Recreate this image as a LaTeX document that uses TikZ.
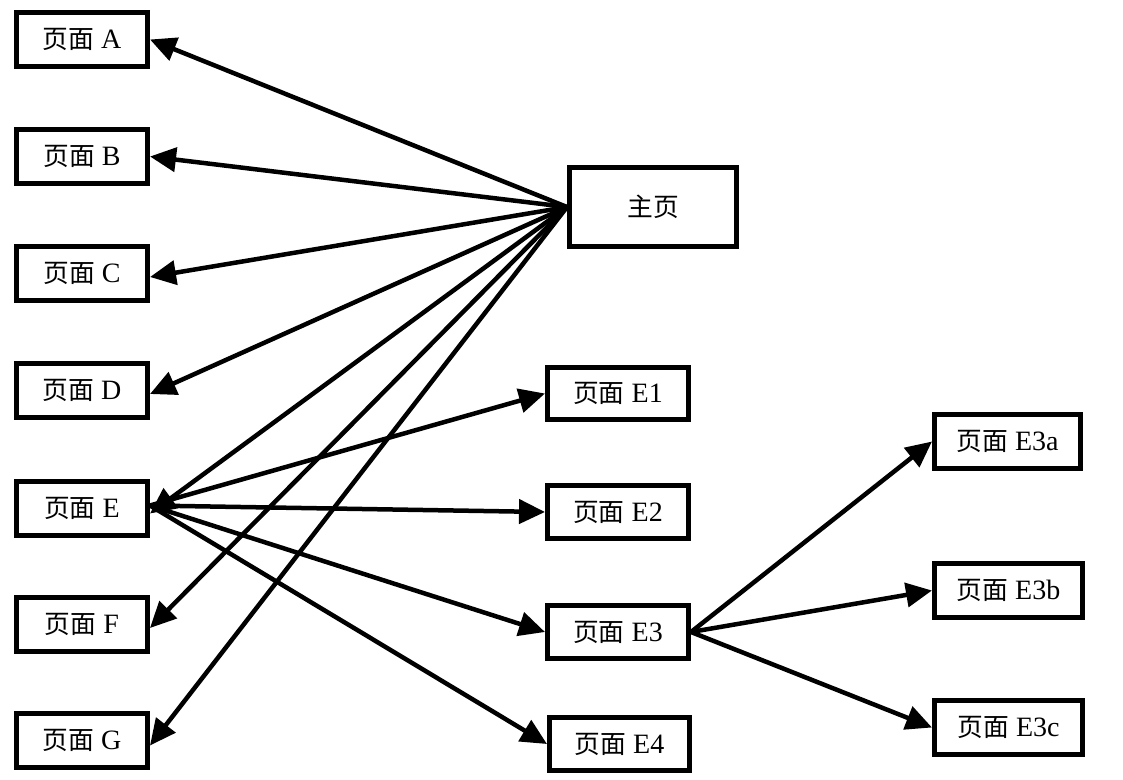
\documentclass[tikz,border=0pt]{standalone}
\usepackage{fontspec}
\setmainfont{Liberation Serif}
\newfontfamily\cjk{Noto Sans CJK SC}[Scale=0.92]
\usetikzlibrary{arrows.meta}
\begin{document}
\begin{tikzpicture}[x=1pt,y=-1pt,
  pagebox/.style={draw,line width=5pt,minimum width=131pt,minimum height=54pt,inner sep=0pt,font=\fontsize{28}{32}\selectfont},
  link/.style={line width=4.5pt,-{Triangle[length=26pt,width=24pt]}}]
\useasboundingbox (0,0) rectangle (1123,779);
\node[pagebox] (A) at (82,39.5) {{\cjk 页面} A};
\node[pagebox] (B) at (82,156.5) {{\cjk 页面} B};
\node[pagebox] (C) at (82,273) {{\cjk 页面} C};
\node[pagebox] (D) at (82,390) {{\cjk 页面} D};
\node[pagebox] (E) at (82,508.5) {{\cjk 页面} E};
\node[pagebox] (F) at (82,624) {{\cjk 页面} F};
\node[pagebox] (G) at (82,740.5) {{\cjk 页面} G};
\node[pagebox,minimum width=167pt,minimum height=79pt] (M) at (653,207) {\cjk 主页};
\node[pagebox,minimum width=141pt,minimum height=52pt] (E1) at (618,393.5) {{\cjk 页面} E1};
\node[pagebox,minimum width=141pt,minimum height=53pt] (E2) at (618,512) {{\cjk 页面} E2};
\node[pagebox,minimum width=141pt,minimum height=53pt] (E3) at (618,632) {{\cjk 页面} E3};
\node[pagebox,minimum width=140pt,minimum height=53pt] (E4) at (619.5,744) {{\cjk 页面} E4};
\node[pagebox,minimum width=146pt] (E3a) at (1007.5,441.5) {{\cjk 页面} E3a};
\node[pagebox,minimum width=148pt] (E3b) at (1008.5,590.5) {{\cjk 页面} E3b};
\node[pagebox,minimum width=148pt] (E3c) at (1008.5,727.5) {{\cjk 页面} E3c};
\coordinate (Mw) at (M.west);
\foreach \t/\dy in {A/0,B/0,C/-4,D/-4,E/-5,F/-4,G/-5}
  \draw[link] (Mw) -- ([yshift=\dy pt]\t.east);
\coordinate (Ee) at ([yshift=3pt]E.east);
\foreach \t in {E1,E2,E3,E4}
  \draw[link] (Ee) -- (\t.west);
\foreach \t in {E3a,E3b,E3c}
  \draw[link] (E3.east) -- (\t.west);
\end{tikzpicture}
\end{document}
